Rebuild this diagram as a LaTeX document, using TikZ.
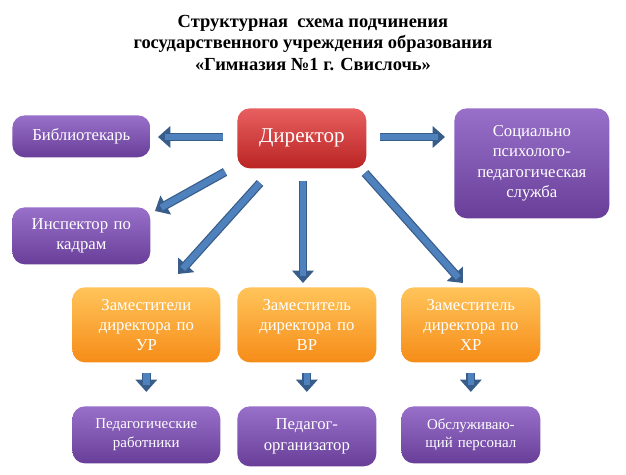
\documentclass[tikz,border=0pt]{standalone}
\usepackage{fontspec}
\setmainfont{Liberation Serif}
\usetikzlibrary{arrows.meta}
\definecolor{purpleTop}{RGB}{152,112,202}
\definecolor{purpleBot}{RGB}{104,62,152}
\definecolor{orangeTop}{RGB}{255,196,90}
\definecolor{orangeBot}{RGB}{246,140,24}
\definecolor{redTop}{RGB}{232,96,96}
\definecolor{redBot}{RGB}{186,36,36}
\definecolor{arrowBlue}{RGB}{79,129,189}
\definecolor{arrowEdge}{RGB}{56,93,138}
\begin{document}
\begin{tikzpicture}
            [x=0.02cm, y=-0.02cm,
             myBox/.style={rectangle, rounded corners=2.5mm, align=center,
                        text=white, font=\fontsize{9.5}{11.5}\selectfont,
                        inner sep=0pt, anchor=north west},
             purpleBox/.style={myBox, top color=purpleTop, bottom color=purpleBot},
             orangeBox/.style={myBox, top color=orangeTop, bottom color=orangeBot},
             myArrow/.style={draw=arrowEdge, line width=5pt,
                        -{Triangle[length=7pt, width=12pt]},
                        postaction={draw=arrowBlue, line width=3.6pt, shorten >=4pt, -}}]

            \useasboundingbox (0,0) rectangle (626,475);

            \node[font=\bfseries\fontsize{10.5}{12.5}\selectfont, align=center] (title) at (313,43)
                {Структурная\ \ схема подчинения\\государственного учреждения образования\\«Гимназия №1 г. Свислочь»};

            \node[myBox, top color=redTop, bottom color=redBot, minimum width=129\pgflinewidth, text width=2.58cm, minimum height=1.2cm, font=\fontsize{12}{14}\selectfont] (director) at (237,108) {Директор};
            \node[purpleBox, text width=2.76cm, minimum height=0.84cm] (librarian) at (12,115) {Библиотекарь};
            \node[purpleBox, text width=3.1cm, minimum height=2.2cm] (socialService) at (454,108) {Социально\\психолого-\\педагогическая\\служба};
            \node[purpleBox, text width=2.76cm, minimum height=1.14cm] (inspector) at (12,207) {Инспектор по\\кадрам};

            \node[orangeBox, text width=2.96cm, minimum height=1.5cm] (deputyUR) at (72,287) {Заместители\\директора по\\УР};
            \node[orangeBox, text width=2.78cm, minimum height=1.5cm] (deputyVR) at (237,287) {Заместитель\\директора по\\ВР};
            \node[orangeBox, text width=2.78cm, minimum height=1.5cm] (deputyHR) at (401,287) {Заместитель\\директора по\\ХР};

            \node[purpleBox, text width=2.96cm, minimum height=1.14cm, font=\fontsize{8.5}{10.5}\selectfont] (teachers) at (72,406) {Педагогические\\работники};
            \node[purpleBox, text width=2.78cm, minimum height=1.2cm] (organizer) at (237,406) {Педагог-\\организатор};
            \node[purpleBox, text width=2.78cm, minimum height=1.14cm, font=\fontsize{8.5}{10.5}\selectfont] (staff) at (401,406) {Обслуживаю-\\щий персонал};

            \coordinate (dirW) at (223,137);  \coordinate (libE) at (158,137);
            \coordinate (dirE) at (380,137);  \coordinate (socW) at (445,137);
            \coordinate (dirSW) at (225,172); \coordinate (insE) at (155,211);
            \coordinate (dirS1) at (260,183); \coordinate (urN) at (178,274);
            \coordinate (dirS2) at (303,181); \coordinate (vrN) at (303,283);
            \coordinate (dirSE) at (365,173); \coordinate (hrN) at (463,283);

            \draw[myArrow] (dirW) -- (libE);
            \draw[myArrow] (dirE) -- (socW);
            \draw[myArrow] (dirSW) -- (insE);
            \draw[myArrow] (dirS1) -- (urN);
            \draw[myArrow] (dirS2) -- (vrN);
            \draw[myArrow] (dirSE) -- (hrN);

            \draw[myArrow] ([yshift=-6]deputyUR.south) -- ([yshift=8]teachers.north);
            \draw[myArrow] ([yshift=-6]deputyVR.south) -- ([yshift=8]organizer.north);
            \draw[myArrow] ([yshift=-6]deputyHR.south) -- ([yshift=8]staff.north);
        \end{tikzpicture}
\end{document}
